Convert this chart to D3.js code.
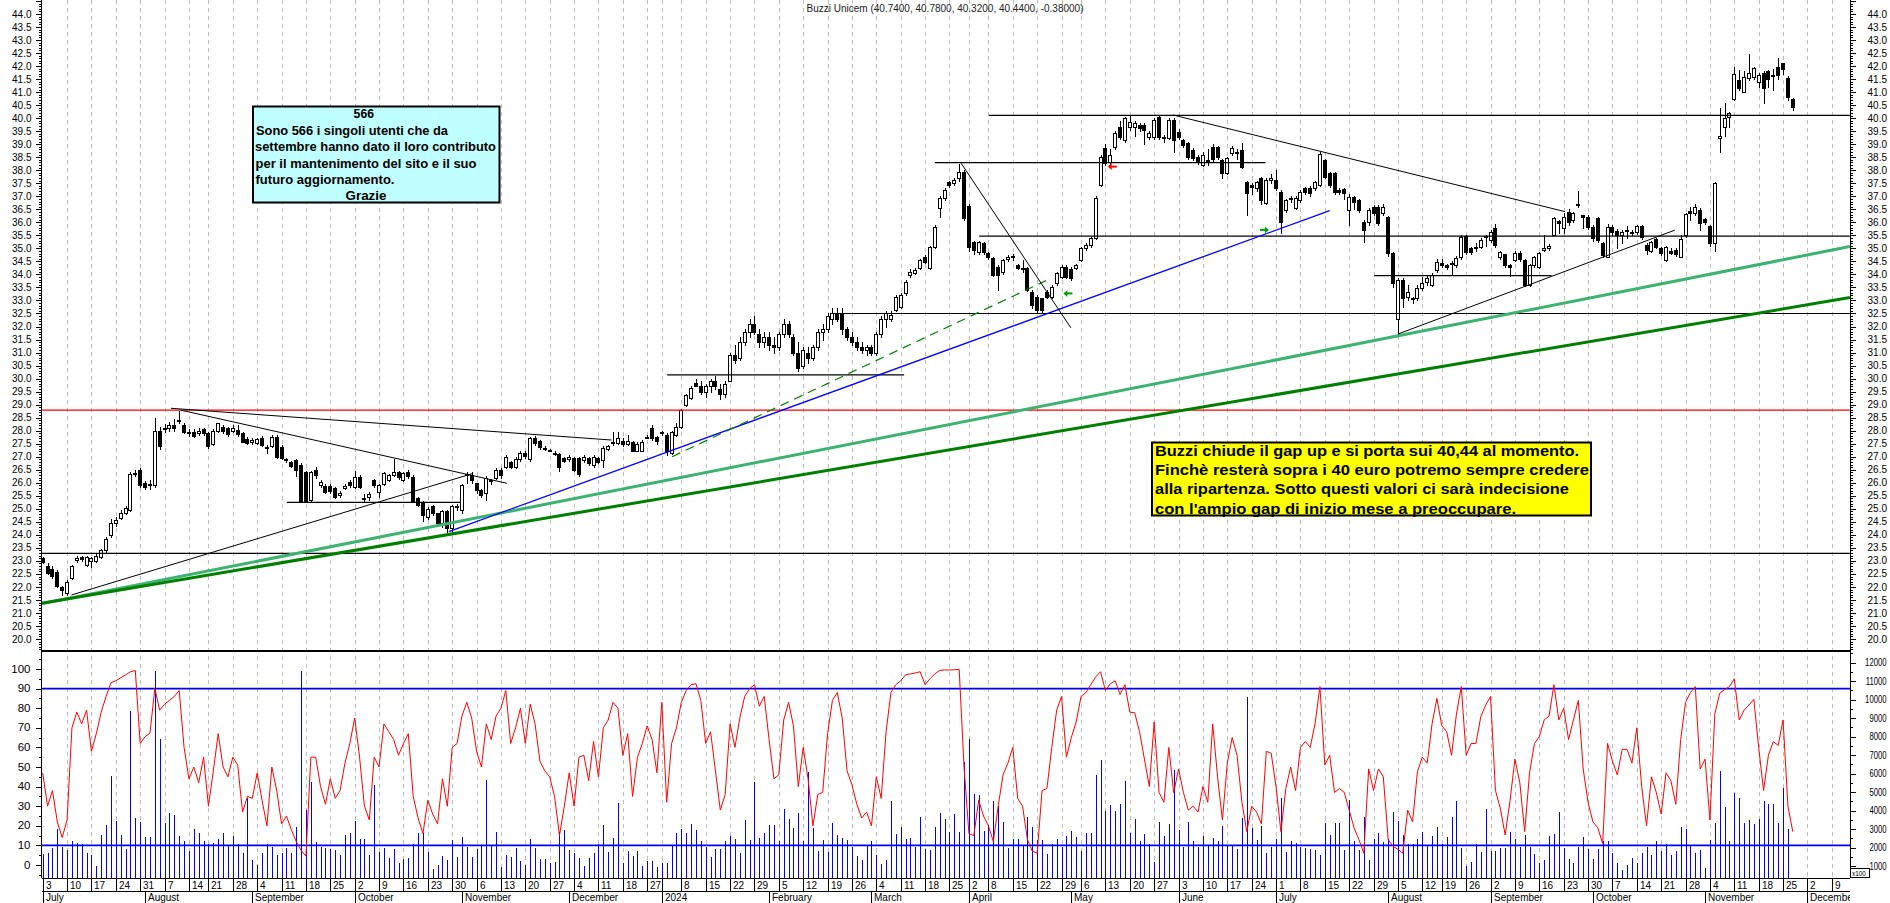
<!DOCTYPE html>
<html><head><meta charset="utf-8">
<script src="https://cdn.jsdelivr.net/npm/d3@7"></script>
<style>
html,body{margin:0;padding:0;background:#fff;overflow:hidden}
svg{display:block}
text{font-family:"Liberation Sans",Arial,Helvetica,sans-serif}
</style></head>
<body>
<svg id="chart" width="1890" height="903"></svg>
<script>
// ================= DATA =================
const chartTitle = "Buzzi Unicem (40.7400, 40.7800, 40.3200, 40.4400, -0.38000)";
const firstDay = "2023-07-03";
const lastAxisDay = "2024-12-13";
const marketHolidays = ["2023-08-15","2023-12-25","2023-12-26","2024-01-01","2024-03-29","2024-04-01","2024-05-01","2024-08-15"];
const monthNames = ["2024","February","March","April","May","June","July","August","September","October","November","December"];
const hiddenDayLabels = ["2024-01-02"];

const opens = [23.10,22.80,22.70,22.58,22.00,21.78,22.35,23.05,23.15,22.85,23.00,23.00,23.15,23.40,24.00,24.45,24.65,24.85,24.95,26.35,26.50,26.00,25.90,25.90,28.00,28.10,28.10,28.20,28.40,28.22,27.95,27.95,27.90,28.05,27.90,27.47,28.00,28.15,28.10,28.00,28.02,27.90,27.67,27.55,27.54,27.70,27.39,27.41,27.77,27.39,26.92,26.81,26.87,26.68,26.42,25.34,26.49,25.91,25.89,25.89,25.80,25.53,25.80,26.04,25.85,26.23,25.42,25.45,26.11,25.65,25.95,26.11,26.30,26.40,26.11,26.42,26.23,25.40,25.27,24.70,25.10,24.82,24.44,24.90,24.25,25.05,24.95,26.30,26.30,25.98,25.72,25.60,26.05,26.20,26.49,26.60,26.80,26.60,26.90,27.13,26.90,27.72,27.60,27.35,27.26,27.15,27.10,26.95,26.90,26.95,26.95,26.87,26.94,26.68,26.94,26.87,27.30,27.51,27.54,27.62,27.47,27.58,27.23,27.23,27.74,28.09,27.74,27.90,27.83,27.13,27.83,28.15,28.98,29.24,29.82,29.70,29.50,29.70,29.90,29.60,29.40,29.90,30.90,30.80,31.40,31.80,32.10,31.70,31.40,31.60,31.30,31.20,31.70,32.10,31.60,31.00,30.50,31.00,30.80,31.20,31.80,31.90,32.30,32.50,32.50,31.90,31.60,31.40,31.20,31.10,31.20,31.00,31.70,32.30,32.30,32.65,32.76,33.27,33.98,34.04,34.23,34.68,34.23,35.07,36.54,36.92,37.56,37.50,37.69,37.95,36.63,35.26,34.87,35.19,34.81,34.62,34.30,34.11,34.60,34.70,34.35,34.25,34.23,33.34,33.15,33.08,33.34,33.15,33.66,33.91,34.30,34.20,34.23,34.55,35.00,35.13,35.39,37.43,38.84,38.30,38.91,39.67,39.16,39.67,39.67,39.74,39.74,39.29,39.29,40.06,39.29,39.23,39.93,39.48,39.16,39.03,38.78,38.52,38.20,38.39,38.91,38.91,38.39,37.88,38.65,38.72,38.78,37.56,37.43,37.31,37.69,36.73,37.63,37.63,37.18,36.47,36.90,36.54,36.86,37.31,37.31,37.31,37.43,38.39,37.88,37.91,37.24,37.27,36.47,36.99,36.86,36.03,36.03,36.60,36.60,36.35,36.22,34.81,32.30,33.79,33.15,33.10,33.08,33.47,33.72,33.60,34.17,34.43,34.36,34.40,34.36,34.68,35.48,35.00,35.05,35.07,35.45,35.32,35.77,34.68,34.77,34.36,34.55,34.84,34.55,33.60,34.36,34.30,34.95,35.03,35.51,36.05,35.77,36.38,36.09,36.70,36.28,36.22,35.83,36.15,35.19,34.68,35.83,35.68,35.51,35.70,35.58,35.62,35.86,35.13,34.91,35.35,35.00,34.55,34.91,34.94,34.68,35.51,36.44,36.35,36.47,36.13,35.86,35.19,39.23,39.65,40.03,40.72,41.47,41.02,41.53,41.57,41.40,41.75,41.81,41.66,41.98,42.10,41.53,40.74];
const highs = [23.15,22.90,22.80,22.65,22.05,22.25,22.85,23.20,23.20,23.20,23.15,23.25,23.45,23.90,24.60,24.70,24.95,25.10,26.40,26.50,26.55,26.05,26.10,28.50,28.15,28.25,28.35,28.45,28.75,28.30,28.05,28.05,28.10,28.10,27.95,28.05,28.30,28.20,28.15,28.20,28.20,27.95,27.75,27.72,27.72,27.80,27.45,27.82,27.82,27.45,26.95,26.85,26.90,26.75,26.45,26.45,26.60,26.10,25.95,25.95,25.85,25.70,25.95,26.10,26.45,26.30,25.55,25.65,26.15,25.95,26.40,26.35,26.90,26.45,26.40,26.50,26.30,25.45,25.30,25.05,25.15,24.85,24.95,24.95,25.15,25.20,25.95,26.40,26.40,26.00,25.75,26.25,26.15,26.55,26.55,27.05,26.85,27.00,27.20,27.20,27.75,27.80,27.65,27.40,27.30,27.20,27.13,27.00,27.05,27.00,27.00,27.05,27.00,27.05,27.00,27.40,27.45,27.95,27.95,27.70,27.85,27.60,27.55,27.65,27.85,28.20,27.80,28.00,27.90,28.00,28.30,28.85,29.40,29.70,30.00,29.90,29.80,30.00,30.10,29.80,29.90,31.00,31.30,31.60,31.90,32.30,32.40,31.90,31.80,31.80,31.60,31.80,32.30,32.20,31.70,31.40,31.20,31.20,31.30,31.90,32.10,32.50,32.70,32.70,32.70,32.00,31.80,31.60,31.40,31.30,31.30,31.80,32.40,32.60,32.60,33.20,33.30,33.80,34.20,34.25,34.60,34.75,35.10,35.90,37.00,37.30,37.60,37.70,38.25,38.00,36.70,35.30,35.30,35.25,34.85,34.65,34.35,34.60,34.75,34.80,34.40,34.55,34.30,33.40,33.20,33.10,33.40,33.60,34.10,34.35,34.35,34.30,34.40,35.05,35.20,35.45,37.00,38.60,39.00,38.80,39.50,39.90,40.05,40.12,39.90,39.80,39.80,39.50,40.00,40.12,39.35,40.00,40.00,39.60,39.20,39.10,38.85,38.60,38.70,38.80,39.00,38.95,38.45,38.50,38.95,38.80,39.03,37.60,37.50,37.60,37.75,37.70,37.85,38.00,37.25,36.90,37.00,37.00,37.25,37.35,37.40,37.60,38.70,38.45,37.95,37.95,37.30,37.30,37.10,37.00,36.90,36.10,36.55,36.65,36.65,36.70,36.25,34.85,33.85,33.85,33.60,33.15,33.60,33.90,33.95,34.05,34.60,34.60,34.40,34.50,34.70,35.50,35.50,35.05,35.20,35.40,35.50,35.70,35.95,34.90,34.80,34.40,34.90,34.90,34.60,34.40,34.70,34.85,35.50,35.15,36.20,36.10,36.35,36.50,36.40,37.20,36.30,36.30,35.90,36.20,35.25,35.95,35.90,35.75,35.70,35.85,35.70,35.90,35.90,35.20,35.30,35.40,35.05,35.10,35.00,35.00,35.50,36.35,36.60,36.70,36.55,36.15,35.90,37.55,40.38,40.60,40.25,41.95,41.85,41.80,42.45,41.95,41.75,41.80,41.85,41.90,42.30,42.10,41.60,40.78];
const lows = [22.90,22.50,22.35,22.00,21.70,21.70,22.30,22.95,23.00,22.80,22.75,22.95,23.10,23.35,23.90,24.35,24.60,24.80,24.90,26.25,25.85,25.75,25.75,25.85,27.30,27.95,28.00,28.00,28.30,27.90,27.80,27.75,27.85,27.85,27.35,27.45,27.95,27.90,27.80,27.95,27.80,27.55,27.50,27.50,27.50,27.40,27.13,27.36,26.95,26.90,26.80,26.60,26.25,25.25,25.25,25.30,26.20,25.85,25.60,25.60,25.40,25.45,25.75,25.85,25.80,25.80,25.25,25.35,25.85,25.45,25.90,26.05,26.25,26.15,26.05,26.20,25.25,25.10,24.55,24.60,24.75,24.35,24.30,24.10,24.10,24.95,24.85,26.00,26.00,25.60,25.45,25.35,25.95,26.15,26.20,26.55,26.55,26.55,26.85,26.95,26.85,27.45,27.30,27.25,27.20,27.05,26.45,26.80,26.85,26.45,26.25,26.80,26.70,26.60,26.75,26.60,27.25,27.45,27.50,27.40,27.45,27.20,27.20,27.20,27.70,27.65,27.50,27.85,27.05,27.10,27.80,28.10,28.95,29.20,29.70,29.40,29.30,29.50,29.60,29.20,29.30,29.90,30.60,30.70,31.30,31.60,31.70,31.20,31.20,31.10,31.00,31.10,31.60,31.60,30.90,30.30,30.40,30.60,30.70,31.10,31.50,31.80,32.10,32.20,31.70,31.50,31.30,31.10,31.00,30.90,30.90,30.90,31.60,32.00,32.20,32.60,32.70,33.20,33.90,34.00,34.20,34.45,34.20,35.00,36.22,36.85,37.35,37.45,37.60,36.10,34.90,34.80,34.80,34.80,34.60,33.95,33.40,34.00,34.50,34.55,34.20,34.10,33.35,32.70,32.50,32.50,33.10,33.10,33.60,33.85,33.85,33.80,34.20,34.50,34.95,35.05,35.35,37.40,38.20,38.20,38.80,39.20,39.10,39.55,39.30,39.50,39.00,39.20,39.20,39.20,39.10,39.20,38.71,39.20,38.90,38.45,38.40,38.25,38.15,38.20,38.35,38.45,37.70,37.85,38.60,38.45,38.10,36.28,37.10,37.20,36.70,36.70,37.50,37.25,35.60,36.40,36.80,36.50,36.80,37.10,37.00,37.25,37.40,37.70,37.35,37.10,37.10,36.90,35.90,36.50,36.40,35.25,35.90,36.30,35.90,36.30,34.70,33.50,31.70,32.76,33.00,32.90,33.00,33.40,33.60,33.55,34.10,34.30,34.20,33.98,34.30,34.60,34.80,34.80,34.90,35.00,35.10,35.25,35.05,34.60,34.30,33.92,34.50,34.50,33.55,33.55,34.30,34.25,34.90,34.95,35.50,35.60,35.60,35.90,36.00,36.60,35.80,35.75,35.30,35.25,34.65,34.65,35.50,35.00,35.20,35.40,35.50,35.55,35.35,34.80,34.85,35.00,34.75,34.50,34.80,34.70,34.65,35.45,36.10,36.30,35.70,35.95,35.10,34.90,38.71,39.30,39.65,40.70,41.10,41.00,41.45,41.50,41.20,40.60,41.20,41.10,41.50,41.70,40.70,40.32];
const closes = [22.95,22.55,22.42,22.05,21.88,22.20,22.80,23.10,23.08,23.15,23.10,23.18,23.40,23.85,24.45,24.57,24.85,25.02,26.35,26.38,25.90,25.85,25.95,28.00,27.40,28.12,28.20,28.10,28.38,27.95,27.90,27.80,28.00,27.90,27.42,28.00,28.28,27.98,27.86,28.11,27.87,27.58,27.54,27.64,27.67,27.45,27.32,27.77,27.00,26.94,26.90,26.66,26.49,25.30,25.30,26.42,26.30,26.04,25.65,25.70,25.47,25.62,25.89,25.91,26.23,25.85,25.38,25.58,25.91,25.90,26.36,26.30,26.42,26.23,26.36,26.26,25.30,25.15,24.78,25.00,24.82,24.44,24.90,24.25,25.10,25.10,25.90,26.32,26.11,25.72,25.53,26.20,26.10,26.50,26.30,27.00,26.62,26.90,27.13,27.02,27.70,27.52,27.36,27.30,27.25,27.13,26.62,26.85,27.00,26.50,26.32,27.00,26.75,27.00,26.81,27.32,27.40,27.58,27.70,27.50,27.60,27.23,27.50,27.58,27.77,27.70,27.62,27.95,27.20,27.96,28.15,28.79,29.37,29.63,29.73,29.50,29.70,29.90,29.70,29.40,29.80,30.90,30.70,31.40,31.80,32.10,31.80,31.40,31.60,31.30,31.20,31.70,32.10,31.70,31.00,30.40,31.10,30.80,31.20,31.80,31.90,32.40,32.50,32.30,31.90,31.60,31.40,31.20,31.10,31.20,31.00,31.70,32.30,32.50,32.45,33.15,33.21,33.72,34.11,34.17,34.55,34.49,35.07,35.83,36.92,37.24,37.43,37.63,37.95,36.15,35.07,34.94,35.26,34.87,34.68,33.98,33.98,34.55,34.65,34.65,34.25,34.20,33.40,32.83,32.63,32.63,33.15,33.53,34.04,34.30,33.91,33.85,34.36,35.00,35.13,35.39,36.92,38.52,38.27,38.60,39.42,39.29,39.99,39.87,39.80,39.64,39.55,39.44,39.93,39.29,39.23,39.93,39.16,39.29,38.97,38.52,38.46,38.33,38.59,38.33,38.42,38.52,37.88,38.46,38.84,38.70,38.14,37.11,37.37,37.56,36.86,37.63,37.69,37.31,36.03,36.86,36.95,36.92,37.18,37.18,37.11,37.56,38.62,37.75,37.43,37.18,37.18,37.14,36.99,36.79,36.47,35.71,36.47,36.35,35.96,36.60,34.81,33.66,33.79,33.08,33.34,33.05,33.47,33.66,33.85,33.98,34.49,34.36,34.30,34.43,34.62,35.45,34.87,34.87,35.07,35.32,35.48,35.64,35.13,34.87,34.36,34.30,34.84,34.58,33.60,34.36,34.68,34.81,35.00,35.10,36.15,35.99,36.22,36.03,36.35,36.72,36.22,35.83,35.39,35.32,34.75,35.83,35.64,35.51,35.64,35.72,35.64,35.86,35.43,34.94,35.26,35.07,34.81,35.07,34.84,34.78,35.35,36.31,36.35,36.58,35.99,36.03,35.19,37.50,39.32,39.99,40.21,41.70,41.15,41.57,41.75,41.91,41.66,41.15,41.50,41.66,41.66,41.88,40.83,40.44];

const oscillator = [47,30,38,22,14,23,70,78,72,79,58,67,78,86,93,94,95.5,97,98.6,99.2,62,65.5,67.2,90,79,82,84,86,89,60,44,50,42,55,30,48,67,50,45,55,51,27,35,34,47,33,20,50,38,21,25,18,12,7.5,4.5,55,55,40,31,44,34,38,52,62,75,55,30,23,55,50,72,68,64,56,62,67,35,24,16,33,26,21,44,30,60,62,76,83,75,58,50,72,64,76,80,89,62,70,80,62,82,72,53,48,45,35,15,30,47,30,55,56,43,63,45,70,74,83,80,56,67,35,55,62,71,64,47,83,32,62,70,83,89,92,92.5,
84,62,68,48,28,36,72,60,75,86,90,92,81,86,64,44,46,74,83,71,40,60,44,20,36,37,67,84,88,75,48,41,31,24,27,20,45,34,68,88,92,94,97,97.5,98,98.6,92,95,97.5,99.3,99.5,99.5,99.6,99.8,50,16,15,33,25,20,12,30,46,52,60,34,30,13,7,6,38,39,60,79,86,55,65,73,86,88,92,96,98.6,89,92.5,94,87,92,78,77.7,68,54,40,73,37,32,60,37,49,37,28,30,27,40,32,72,45,23,52,65,56,32,17,30,27,21,58,57,40,17,39,50,38,60,63,60,72,91,51,56,37,39,37,28,19,13,6,49,38,49,45,13,9.5,8,
6,28,22,47.6,55,52,72,85,71,68,56,77,91,56,62,62,75.7,81.6,86,38,29,15.3,33,54,42,17,47,62,65.5,74,76,92,74,80,64,74,84,49,32,22,19,11,62,53,46,59,59,52,70,40,20,45,37,26,47,43,31,64,83,88,91,49,54,23,77,87.6,89.5,91,95,74,79,81.6,84.5,60,38,56,63,61,74,30,17];

const volumes = [1650,1690,1958,2990,2050,1868,2356,2230,2175,1690,1597,1000,2681,3223,5880,3458,2681,1922,9403,3585,3404,2590,2590,11535,7885,3350,3856,3766,2627,2356,1832,3006,2808,2356,2175,2230,2464,2808,2103,2627,2175,1690,4669,1326,1055,1690,2193,2012,1597,1690,1958,1690,3097,11535,4036,5572,2320,2050,1958,1904,1868,1597,2681,2772,3440,2464,2464,1597,5392,1778,1958,1416,1922,1181,1362,1416,2193,2808,2772,1778,820,1055,1543,1326,2410,1470,2590,2050,1470,1922,2085,5627,2139,2826,965,1597,1506,1958,1272,1055,2464,1958,1380,1380,1181,1235,2862,2952,1868,1690,1452,1000,1452,1724,2193,3223,1778,2536,4434,1181,1832,1543,1832,1019,1290,1290,965,1145,1181,2085,2808,2988,2808,3277,2952,
2356,2050,1506,1922,1922,2356,2627,2464,1724,3494,2410,5572,2536,2808,3223,3223,2356,4090,3548,3079,3892,2356,6060,3079,1832,2410,1778,3350,2681,2500,2410,2050,1543,1326,2085,2356,1597,1109,1326,4524,2735,3097,2464,2536,2050,3675,1904,1868,3097,3892,3548,2826,3820,2826,6602,7885,4886,4850,2916,3223,4524,4253,3404,1958,2464,2464,2085,3675,3097,2410,2410,1651,2193,2464,2012,2627,2916,2590,1832,2808,2808,5934,6711,3982,4307,4000,4362,5608,2772,3548,2356,2735,2193,1235,3404,2627,3277,6205,2952,2050,3404,2356,2012,2627,2103,2500,2356,3169,2139,2103,1922,3585,10126,3079,2410,3169,1724,2012,2464,4669,1778,2356,2266,2012,1958,1904,1868,1597,3350,2681,3350,3350,1868,4578,2356,1868,3675,1326,2446,2808,2320,2446,3946,3440,
2681,2193,2193,2464,2862,2085,2627,3097,2193,2590,3675,4542,1994,1000,1235,2193,1778,4090,1832,1832,1958,1958,2826,2464,2050,2681,2050,1633,1181,1326,2645,2717,3946,1958,1380,1145,2050,2590,1904,1380,1904,2374,2374,1690,1181,784,1055,1416,1181,1724,2050,1597,2356,1832,2193,1597,1832,3133,3006,2085,1690,1868,911,2410,3314,6151,4217,2374,4976,4705,3350,3494,3277,3566,4542,4344,4344,3350,5247,3024,null];

const priceLabels = [20.0,20.5,21.0,21.5,22.0,22.5,23.0,23.5,24.0,24.5,25.0,25.5,26.0,26.5,27.0,27.5,28.0,28.5,29.0,29.5,30.0,30.5,31.0,31.5,32.0,32.5,33.0,33.5,34.0,34.5,35.0,35.5,36.0,36.5,37.0,37.5,38.0,38.5,39.0,39.5,40.0,40.5,41.0,41.5,42.0,42.5,43.0,43.5,44.0];
const oscLabels = [0,10,20,30,40,50,60,70,80,90,100];
const volLabels = [1000,2000,3000,4000,5000,6000,7000,8000,9000,10000,11000,12000];
const oscBands = [90,10];

// horizontal levels: price, start index, end index (day-index units)
const levelPrices = [28.79,23.29,40.11,38.29,35.47,32.50,33.95,30.14,25.25];
const levelFrom   = [-0.25,-0.25,194.1,183.0,192.1,162.1,273.1,128.1,50.1];
const levelTo     = [370.7,370.7,370.7,250.85,370.7,370.7,309.5,176.7,85.8];
const levelKind   = ["red","black","black","black","black","black","black","black","black"];
// trend lines: [i1, p1, i2, p2, kind]
const trendlines = [
  [-0.25,21.35,370.7,35.07,"lightgreen"],
  [-0.25,21.37,370.7,33.11,"darkgreen"],
  [26.3,28.86,116.7,27.64,"thin"],
  [28.3,28.79,95.2,25.98,"thin"],
  [5.9,21.69,88.3,26.36,"thin"],
  [83.3,24.12,264.0,36.45,"blue"],
  [129.1,27.00,205.8,33.76,"dashgreen"],
  [188.4,38.27,210.9,31.95,"thin"],
  [231.9,40.12,312.3,36.41,"thin"],
  [278.0,31.71,334.8,35.70,"thin"]
];
// arrows: [index, price, direction, kind]
const arrows = [[219.5,38.14,"left","red"],[210.4,33.27,"left","green"],[250.5,35.71,"right","green"]];

const cyanNote = ["566","Sono 566 i singoli utenti che da","settembre hanno dato il loro contributo","per il mantenimento  del sito e il suo","futuro aggiornamento.","Grazie"];
const yellowNote = ["Buzzi chiude il gap up e si porta sui 40,44 al momento.","Finchè resterà sopra i 40 euro potremo sempre credere","alla ripartenza. Sotto questi valori ci sarà indecisione","con l'ampio gap di inizio mese a preoccupare."];

// ================= LAYOUT =================
const W = 1890, H = 903;
const axL = 41.5, axR = 1850;
const priceBottom = 651, lowerBottom = 878, dayRowBottom = 891;
const svg = d3.select("#chart");
svg.append("rect").attr("width",W).attr("height",H).attr("fill","#fff");

const parse = d3.timeParse("%Y-%m-%d"), fmt = d3.timeFormat("%Y-%m-%d");
const hol = new Set(marketHolidays);
const days = [];
for (let d = parse(firstDay); d <= parse(lastAxisDay); d = d3.timeDay.offset(d,1)) {
  const wd = d.getDay();
  if (wd>0 && wd<6 && !hol.has(fmt(d))) days.push(d);
}
const x = d3.scaleLinear().domain([0, 367]).range([42.7, 1831.8]);
const yP = d3.scaleLinear().domain([20,44]).range([639,14]);
const yO = d3.scaleLinear().domain([0,100]).range([865,669]);
const yV = d3.scaleLinear().domain([0,12000]).range([884.5,662.7]);

const weekStarts = [], monthStarts = [];
days.forEach((d,i)=>{
  if (x(i) > axR) return;
  if (i===0 || +d3.timeMonday.floor(d) !== +d3.timeMonday.floor(days[i-1])) weekStarts.push(i);
  if (i===0 || d.getMonth() !== days[i-1].getMonth()) monthStarts.push(i);
});

// ---- grid ----
const grid = svg.append("g");
weekStarts.filter(i=>i>0).forEach(i=>{
  const gx = Math.round(x(i))+0.5;
  grid.append("line").attr("x1",gx).attr("x2",gx).attr("y1",0).attr("y2",lowerBottom)
    .attr("stroke","#bdbdbd").attr("stroke-width",1).attr("stroke-dasharray","4,4");
});

// ---- candles ----
const cg = svg.append("g").attr("shape-rendering","crispEdges");
d3.range(closes.length).forEach(i=>{
  const cx = Math.round(x(i));
  cg.append("line").attr("x1",cx+0.5).attr("x2",cx+0.5)
    .attr("y1",Math.round(yP(highs[i]))).attr("y2",Math.round(yP(lows[i]))+1)
    .attr("stroke","#000").attr("stroke-width",1);
  const top = Math.round(yP(Math.max(opens[i],closes[i])));
  const bot = Math.round(yP(Math.min(opens[i],closes[i])));
  const up = closes[i] >= opens[i];
  cg.append("rect").attr("x",cx-1.5).attr("y",top+0.5).attr("width",3).attr("height",Math.max(bot-top,1))
    .attr("fill",up?"#fff":"#000").attr("stroke","#000").attr("stroke-width",1);
});

// ---- levels & trendlines ----
const lg = svg.append("g");
const levelStyle = {red:{c:"#ff0000",w:1.4},black:{c:"#000",w:1.2}};
levelPrices.forEach((p,k)=>{
  const st = levelStyle[levelKind[k]];
  lg.append("line").attr("x1",x(levelFrom[k])).attr("x2",x(levelTo[k]))
    .attr("y1",yP(p)).attr("y2",yP(p)).attr("stroke",st.c).attr("stroke-width",st.w);
});
const trendStyle = {
  lightgreen:{c:"#3cb371",w:3,d:null},
  darkgreen:{c:"#008000",w:3,d:null},
  thin:{c:"#000",w:1,d:null},
  blue:{c:"#0000ff",w:1.3,d:null},
  dashgreen:{c:"#008000",w:1.2,d:"9,6"}
};
trendlines.forEach(t=>{
  const st = trendStyle[t[4]];
  const ln = lg.append("line").attr("x1",x(t[0])).attr("y1",yP(t[1])).attr("x2",x(t[2])).attr("y2",yP(t[3]))
    .attr("stroke",st.c).attr("stroke-width",st.w);
  if (st.d) ln.attr("stroke-dasharray",st.d);
});
const arrowColor = {red:"#ff0000",green:"#00a000"};
arrows.forEach(a=>{
  const ax = x(a[0]), ay = yP(a[1]), s = a[2]==="left"?-1:1, c = arrowColor[a[3]];
  lg.append("line").attr("x1",ax-4*s).attr("x2",ax+2*s).attr("y1",ay).attr("y2",ay).attr("stroke",c).attr("stroke-width",2);
  lg.append("path").attr("d",`M${ax+5*s},${ay} L${ax+1*s},${ay-3.5} L${ax+1*s},${ay+3.5} Z`).attr("fill",c);
});

// ---- notes ----
const cy = svg.append("g");
cy.append("rect").attr("x",253).attr("y",106.5).attr("width",246.5).attr("height",96).attr("fill","#c0ffff").attr("stroke","#000").attr("stroke-width",2);
const cyanLayout = [[363.8,118,"middle",null],[256,134.5,"start",192],[255,150.8,"start",241],[255.5,167.5,"start",221],[255.5,183.5,"start",139],[366,199.5,"middle",null]];
cyanNote.forEach((t,k)=>{
  const L = cyanLayout[k];
  const tx = cy.append("text").attr("x",L[0]).attr("y",L[1]).attr("text-anchor",L[2])
    .attr("font-size",13).attr("font-weight","bold").attr("fill","#000")
    .style("font-family",'"Liberation Sans Narrow","Liberation Sans",Arial,sans-serif').text(t);
  if (L[3]) tx.attr("textLength",L[3]).attr("lengthAdjust","spacingAndGlyphs");
  else tx.attr("textLength",t.length*6.8).attr("lengthAdjust","spacingAndGlyphs");
});
const yl = svg.append("g");
yl.append("rect").attr("x",1152).attr("y",442.5).attr("width",439).attr("height",73).attr("fill","#ffff00").attr("stroke","#000").attr("stroke-width",2);
const yLen = [424,434,414,361];
yellowNote.forEach((t,k)=>{
  yl.append("text").attr("x",1155).attr("y",456+k*19.2).attr("font-size",15).attr("font-weight","bold").attr("fill","#000")
    .attr("textLength",yLen[k]).attr("lengthAdjust","spacingAndGlyphs").text(t);
});

// ---- lower panel ----
const lo = svg.append("g");
const vg = lo.append("g").attr("shape-rendering","crispEdges");
volumes.forEach((v,i)=>{
  if (v==null) return;
  const cx = Math.round(x(i))+0.5;
  vg.append("line").attr("x1",cx).attr("x2",cx).attr("y1",lowerBottom).attr("y2",yV(v)).attr("stroke","#0000ff").attr("stroke-width",1);
});
oscBands.forEach(b=>{
  lo.append("line").attr("x1",axL).attr("x2",axR).attr("y1",yO(b)).attr("y2",yO(b)).attr("stroke","#0000ff").attr("stroke-width",1.6);
});
lo.append("path").datum(oscillator).attr("fill","none").attr("stroke","#ff0000").attr("stroke-width",1)
  .attr("d",d3.line().x((v,i)=>x(i)).y(v=>yO(v)));

// ---- frame lines ----
const fr = svg.append("g").attr("shape-rendering","crispEdges");
fr.append("line").attr("x1",axL).attr("x2",axR).attr("y1",priceBottom).attr("y2",priceBottom).attr("stroke","#000").attr("stroke-width",1.5);
fr.append("line").attr("x1",axL).attr("x2",axL).attr("y1",0).attr("y2",lowerBottom).attr("stroke","#000");
fr.append("line").attr("x1",axR).attr("x2",axR).attr("y1",0).attr("y2",lowerBottom).attr("stroke","#000");
fr.append("line").attr("x1",axL).attr("x2",axR).attr("y1",lowerBottom+0.5).attr("y2",lowerBottom+0.5).attr("stroke","#000");
fr.append("line").attr("x1",axL).attr("x2",axR).attr("y1",dayRowBottom+0.5).attr("y2",dayRowBottom+0.5).attr("stroke","#000");

// ---- price axes ----
const ax = svg.append("g").attr("shape-rendering","crispEdges");
d3.range(196, 446).forEach(k=>{
  const p = k/10, yy = Math.round(yP(p))+0.5;
  if (yy < 0 || yy > priceBottom) return;
  const major = k%5===0;
  ax.append("line").attr("x1",axL-(major?6:3)).attr("x2",axL).attr("y1",yy).attr("y2",yy).attr("stroke","#000");
  ax.append("line").attr("x1",axR).attr("x2",axR+(major?6:3)).attr("y1",yy).attr("y2",yy).attr("stroke","#000");
});
const lab = svg.append("g").attr("font-size",10).attr("fill","#000");
priceLabels.forEach(p=>{
  lab.append("text").attr("x",31.5).attr("y",yP(p)+3.6).attr("text-anchor","end").text(p.toFixed(1));
  lab.append("text").attr("x",1887).attr("y",yP(p)+3.6).attr("text-anchor","end").text(p.toFixed(1));
});
// lower axes
d3.range(-5, 110, 5).forEach(v=>{
  const yy = Math.round(yO(v))+0.5;
  if (yy <= priceBottom || yy >= lowerBottom) return;
  ax.append("line").attr("x1",axL-(v%10===0?6:3)).attr("x2",axL).attr("y1",yy).attr("y2",yy).attr("stroke","#000");
});
d3.range(500, 12600, 500).forEach(v=>{
  const yy = Math.round(yV(v))+0.5;
  if (yy <= priceBottom || yy >= lowerBottom) return;
  ax.append("line").attr("x1",axR).attr("x2",axR+(v%1000===0?6:3)).attr("y1",yy).attr("y2",yy).attr("stroke","#000");
});
oscLabels.forEach(v=>{
  lab.append("text").attr("transform",`translate(30.5,${yO(v)+3.6}) scale(1.15,1)`)
    .attr("text-anchor","end").text(v);
});
volLabels.forEach(v=>{
  lab.append("text").attr("transform",`translate(1886.5,${yV(v)+3.6}) scale(0.77,1)`)
    .attr("text-anchor","end").text(v);
});
svg.append("rect").attr("x",1850.5).attr("y",868.5).attr("width",19).attr("height",9).attr("fill","#fff").attr("stroke","#000").attr("stroke-width",1);
svg.append("text").attr("transform","translate(1852,876) scale(0.85,1)").attr("font-size",7.5).text("x100");

// ---- date axis ----
const da = svg.append("g");
const dl = svg.append("g").attr("font-size",10).attr("fill","#000");
const hidden = new Set(hiddenDayLabels);
weekStarts.forEach(i=>{
  const tx = Math.round(x(i))+0.5;
  da.append("line").attr("x1",tx).attr("x2",tx).attr("y1",lowerBottom).attr("y2",dayRowBottom).attr("stroke","#000").attr("shape-rendering","crispEdges");
  if (!hidden.has(fmt(days[i])) && tx+14 < axR)
    dl.append("text").attr("x",tx+2.5).attr("y",888.5).text(days[i].getDate());
});
const fullMonths = ["January","February","March","April","May","June","July","August","September","October","November","December"];
const clipId = "dclip";
svg.append("clipPath").attr("id",clipId).append("rect").attr("x",0).attr("y",0).attr("width",axR).attr("height",H);
const ml = svg.append("g").attr("clip-path",`url(#${clipId})`).attr("font-size",10);
monthStarts.forEach(i=>{
  const tx = Math.round(x(i))+0.5;
  da.append("line").attr("x1",tx).attr("x2",tx).attr("y1",dayRowBottom).attr("y2",H).attr("stroke","#000").attr("shape-rendering","crispEdges");
  const d = days[i];
  const name = (d.getMonth()===0) ? monthNames[0] : fullMonths[d.getMonth()];
  ml.append("text").attr("x",tx+2.5).attr("y",901).text(name);
});

// ---- title ----
svg.append("text").attr("x",945).attr("y",12).attr("text-anchor","middle").attr("font-size",10).attr("fill","#222")
  .attr("textLength",277).attr("lengthAdjust","spacingAndGlyphs").text(chartTitle);
</script>
</body></html>
